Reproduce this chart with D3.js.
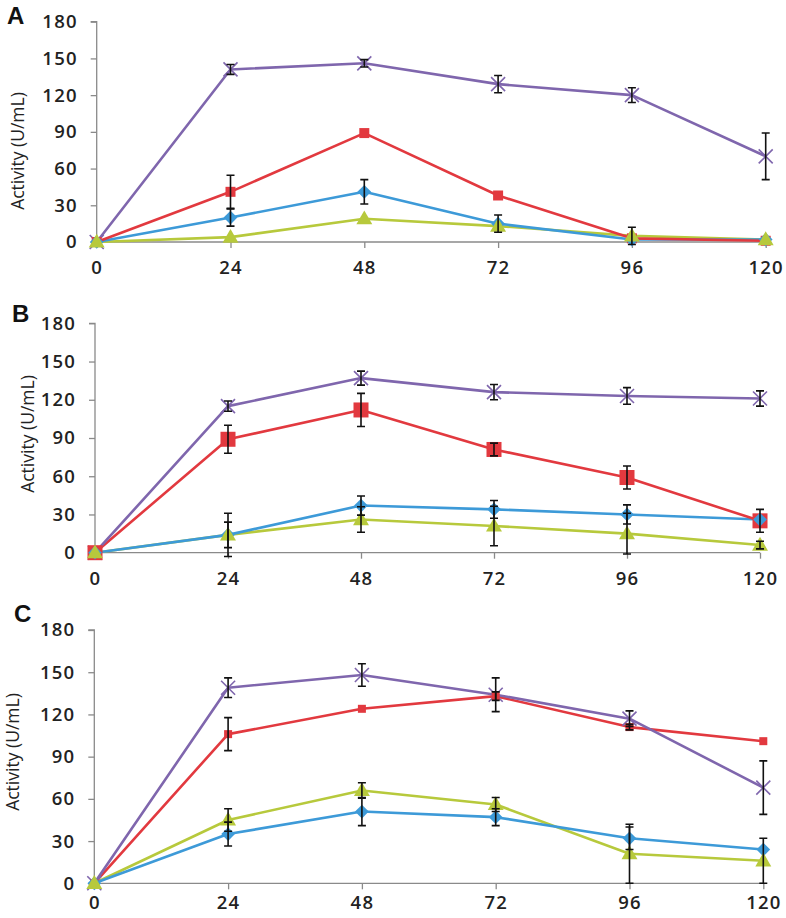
<!DOCTYPE html>
<html><head><meta charset="utf-8">
<script src="https://cdn.jsdelivr.net/npm/d3@7"></script>
<style>body{margin:0;background:#fff}svg{display:block}</style>
</head><body><svg id="c" width="786" height="918"></svg>
<script>
const hours = [0, 24, 48, 72, 96, 120];
const yTicks = [0, 30, 60, 90, 120, 150, 180];
const panels = ["A", "B", "C"];
const seriesNames = ["blue", "red", "green", "purple"];
// Panel A values
const A_blue   = [0, 20, 41, 15, 2, 2];
const A_red    = [0, 41, 89, 38, 3, 1];
const A_green  = [0, 4, 19, 13, 5, 2];
const A_purple = [0, 141, 146, 129, 120, 70];
const A_blueErr   = [0, 7, 10, 7, 0, 0];
const A_redErr    = [0, 13.5, 0, 0, 0, 0];
const A_greenErr  = [0, 0, 0, 0, 7, 0];
const A_purpleErr = [0, 4, 3, 7, 6, 19];
// Panel B values
const B_blue   = [0, 14, 37, 34, 30, 26];
const B_red    = [0, 89, 112, 81, 59, 25];
const B_green  = [0, 14, 26, 21, 15, 6];
const B_purple = [0, 115, 137, 126, 123, 121];
const B_blueErr   = [0, 17, 7.5, 7, 7.5, 0];
const B_redErr    = [0, 11, 13, 5, 9, 9];
const B_greenErr  = [0, 10, 10, 15.5, 16, 3];
const B_purpleErr = [0, 4, 5.5, 6, 6.5, 6];
// Panel C values
const C_blue   = [0, 35, 51, 47, 32, 24];
const C_red    = [0, 106, 124, 133, 111, 101];
const C_green  = [0, 45, 66, 56, 21, 16];
const C_purple = [0, 139, 148, 134, 117, 68];
const C_blueErr   = [0, 8.5, 10, 6, 8, 0];
const C_redErr    = [0, 11.7, 0, 3, 2, 0];
const C_greenErr  = [0, 8, 5.5, 5, 21, 16];
const C_purpleErr = [0, 7, 8, 12, 5.5, 19];

const data = {
  A: {blue: [A_blue, A_blueErr], red: [A_red, A_redErr], green: [A_green, A_greenErr], purple: [A_purple, A_purpleErr]},
  B: {blue: [B_blue, B_blueErr], red: [B_red, B_redErr], green: [B_green, B_greenErr], purple: [B_purple, B_purpleErr]},
  C: {blue: [C_blue, C_blueErr], red: [C_red, C_redErr], green: [C_green, C_greenErr], purple: [C_purple, C_purpleErr]}
};

const colors = {blue: "#3d9ad8", red: "#e2393f", green: "#b7c93c", purple: "#7f66ad"};
const layout = {
  A: {x0: 96.7, x1: 765.7, yTop: 21.7, yBot: 242, lab: [7, 24], ylx: 18, ylyc: 151, sq: 10, xpad: 13},
  B: {x0: 95, x1: 760, yTop: 323.3, yBot: 552.7, lab: [12, 322], ylx: 28, ylyc: 434, sq: 15, xpad: 13},
  C: {x0: 94.3, x1: 763.3, yTop: 630, yBot: 883.3, lab: [14, 622], ylx: 13, ylyc: 752, sq: 8, xpad: 7}
};

const svg = d3.select("#c");
const font = "'Open Sans', 'DejaVu Sans', sans-serif";

panels.forEach(p => {
  const L = layout[p];
  const x = d3.scaleLinear().domain([0, 120]).range([L.x0, L.x1]);
  const y = d3.scaleLinear().domain([0, 180]).range([L.yBot, L.yTop]);
  const g = svg.append("g");

  // panel letter
  g.append("text").attr("x", L.lab[0]).attr("y", L.lab[1]).text(p)
    .attr("font-family", "'Liberation Sans', Arial, sans-serif").attr("font-weight", "bold")
    .attr("font-size", 24).attr("fill", "#111");

  // y axis
  const ya = g.append("g").attr("transform", `translate(${L.x0},0)`)
    .call(d3.axisLeft(y).tickValues(yTicks).tickSize(6).tickPadding(13).tickFormat(d3.format("d")));
  ya.select(".domain").attr("stroke", "#8a8a8a").attr("stroke-width", 1.3).attr("d", `M-6,${L.yTop}H0V${L.yBot}`);
  ya.selectAll(".tick line").attr("stroke", "#8a8a8a").attr("stroke-width", 1.3);
  ya.selectAll(".tick text").attr("font-family", font).attr("font-weight", 600)
    .attr("font-size", 18.5).attr("letter-spacing", 1.2).attr("fill", "#222");

  // x axis
  const xa = g.append("g").attr("transform", `translate(0,${L.yBot})`)
    .call(d3.axisBottom(x).tickValues(hours).tickSize(6).tickPadding(L.xpad).tickFormat(d3.format("d")));
  xa.select(".domain").attr("stroke", "#8a8a8a").attr("stroke-width", 1.3).attr("d", `M${L.x0},0H${L.x1}`);
  xa.selectAll(".tick line").attr("stroke", "#8a8a8a").attr("stroke-width", 1.3);
  xa.selectAll(".tick text").attr("font-family", font).attr("font-weight", 600)
    .attr("font-size", 18.5).attr("letter-spacing", 1.2).attr("fill", "#222");

  // y label
  g.append("text").attr("transform", `translate(${L.ylx + 6},${L.ylyc}) rotate(-90)`)
    .attr("text-anchor", "middle").attr("font-family", font).attr("font-size", 17.5)
    .attr("fill", "#222").text("Activity (U/mL)");

  const line = d3.line().x((d, i) => x(hours[i])).y(d => y(d));

  // lines
  ["green", "blue", "red", "purple"].forEach(s => {
    const [vals] = data[p][s];
    g.append("path").datum(vals).attr("d", line).attr("fill", "none")
      .attr("stroke", colors[s]).attr("stroke-width", 2.6).attr("stroke-linejoin", "round");
  });

  // markers
  ["purple", "red", "blue", "green"].forEach(s => {
    const [vals] = data[p][s];
    const mg = g.append("g");
    vals.forEach((v, i) => {
      const cx = x(hours[i]), cy = y(v);
      if (s === "blue") {
        mg.append("path").attr("d", d3.symbol(d3.symbolDiamond2, 120)()).attr("transform", `translate(${cx},${cy})`).attr("fill", colors[s]);
      } else if (s === "red") {
        const h = L.sq;
        mg.append("rect").attr("x", cx - h / 2).attr("y", cy - h / 2).attr("width", h).attr("height", h).attr("fill", colors[s]);
      } else if (s === "green") {
        mg.append("path").attr("d", d3.symbol(d3.symbolTriangle, 110)()).attr("transform", `translate(${cx},${cy + 1})`).attr("fill", colors[s]);
      } else {
        mg.append("path").attr("d", "M-7,-7L7,7M-7,7L7,-7").attr("transform", `translate(${cx},${cy})`)
          .attr("stroke", colors[s]).attr("stroke-width", 1.6).attr("fill", "none");
      }
    });
  });

  // error bars
  seriesNames.forEach(s => {
    const [vals, errs] = data[p][s];
    vals.forEach((v, i) => {
      const e = errs[i];
      if (!e || i === 0) return;
      const cx = x(hours[i]), yt = y(v + e), yb = y(v - e);
      g.append("path").attr("d", `M${cx},${yt}V${yb}M${cx - 4},${yt}H${cx + 4}M${cx - 4},${yb}H${cx + 4}`)
        .attr("stroke", "#111").attr("stroke-width", 1.6).attr("fill", "none");
    });
  });
});
</script></body></html>
